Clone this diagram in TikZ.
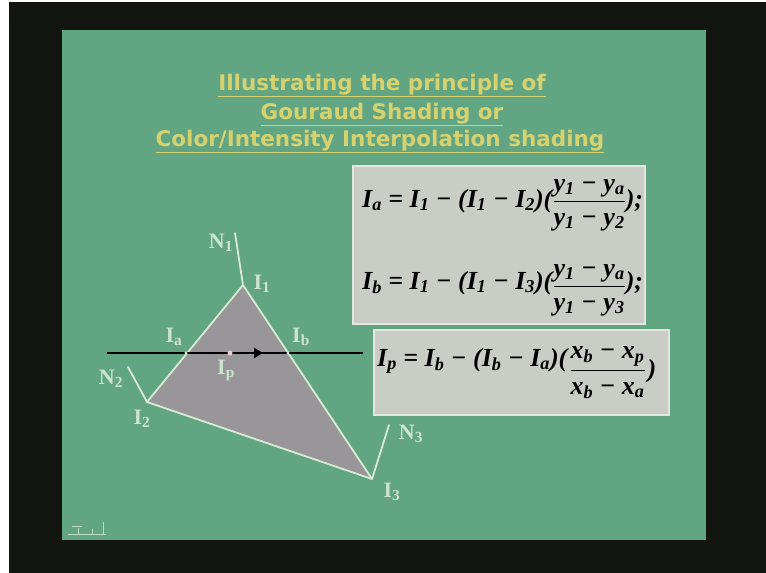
\documentclass[tikz,border=0pt]{standalone}
\usepackage{fontspec}
\newfontfamily\titlefont{DejaVu Sans}
\newfontfamily\fm{Liberation Serif}
\usetikzlibrary{arrows.meta}
\definecolor{bgdark}{RGB}{18,21,16}
\definecolor{slide}{RGB}{98,165,130}
\definecolor{ttl}{RGB}{214,210,112}
\definecolor{boxg}{RGB}{201,205,198}
\definecolor{tri}{RGB}{152,150,152}
\definecolor{edge}{RGB}{214,234,214}
\definecolor{lbltext}{RGB}{205,228,208}
\definecolor{ipdot}{RGB}{235,205,205}
\newcommand\frc[3]{\raisebox{-#1}{$\displaystyle{\hbox{#2}\above 1.4pt\hbox{#3}}$}}
\begin{document}
\begin{tikzpicture}[x=1pt,y=-1pt,
  ttlstyle/.style={anchor=base, inner sep=0pt, text=ttl, font=\titlefont\bfseries\fontsize{21.5}{24}\selectfont},
  lbl/.style={text=lbltext, inner sep=0pt, font=\fm\bfseries\fontsize{22}{24}\selectfont},
  eq/.style={anchor=base west, inner sep=0pt, font=\fm\bfseries\itshape\fontsize{26}{32}\selectfont},
  eqbox/.style={fill=boxg, draw=boxg!50!white, line width=1.5pt, anchor=north west, inner sep=0pt},
  edgeline/.style={draw=edge, line width=1.8pt, line cap=round, line join=round},
  scanline/.style={draw=black, line width=2pt},
  icon/.style={draw=edge!80!slide, line width=1pt},
]
\fill[white] (0,0) rectangle (766,573);
\fill[bgdark] (9,2) rectangle (766,573);
\fill[slide] (62,30) rectangle (706,540);
\useasboundingbox (0,0) rectangle (766,573);

% title
\node[ttlstyle] (t1) at (382,90) {\underline{Illustrating the principle of}};
\node[ttlstyle] (t2) at (382,119) {\underline{Gouraud Shading or}};
\node[ttlstyle] (t3) at (380,146) {\underline{Color/Intensity Interpolation shading}};

% formula boxes
\node[eqbox, minimum width=292pt, minimum height=158pt] (box1) at (352,165) {};
\node[eqbox, minimum width=295pt, minimum height=85pt] (box2) at (373,329) {};

\node[eq] (fa) at (362,207) {I\textsubscript{a} = I\textsubscript{1} − (I\textsubscript{1} − I\textsubscript{2})(\frc{1pt}{y\textsubscript{1} − y\textsubscript{a}}{y\textsubscript{1} − y\textsubscript{2}});};
\node[eq] (fb) at (362,289) {I\textsubscript{b} = I\textsubscript{1} − (I\textsubscript{1} − I\textsubscript{3})(\frc{4pt}{y\textsubscript{1} − y\textsubscript{a}}{y\textsubscript{1} − y\textsubscript{3}});};
\node[eq] (fp) at (377,366) {I\textsubscript{p} = I\textsubscript{b} − (I\textsubscript{b} − I\textsubscript{a})(\kern2pt\frc{11pt}{x\textsubscript{b} − x\textsubscript{p}}{x\textsubscript{b} − x\textsubscript{a}}\kern2pt\raisebox{-11pt}{)}};

% triangle
\coordinate (I1) at (243,285);
\coordinate (I2) at (147,402);
\coordinate (I3) at (372,479);
\coordinate (n1) at (235,233);
\coordinate (n2) at (128,367);
\coordinate (n3) at (389,425);
\fill[tri] (I1) -- (I2) -- (I3) -- cycle;
\draw[edgeline] (I1) -- (I2) -- (I3) -- cycle;
\draw[edgeline] (I1) -- (n1);
\draw[edgeline] (I2) -- (n2);
\draw[edgeline] (I3) -- (n3);

% scan line
\coordinate (L) at (107,353);
\coordinate (R) at (363,353);
\coordinate (Ia) at (186,353);
\coordinate (Ib) at (288,353);
\coordinate (Ip) at (230,353);
\coordinate (tip) at (263,353);
\draw[scanline] (L) -- (R);
\draw[scanline, -{Triangle[length=9pt,width=10pt]}] (Ip) -- (tip);
\fill[edge] (Ia) circle (1.6);
\fill[edge] (Ib) circle (1.6);
\fill[ipdot] (Ip) circle (2.5);

% labels
\node[lbl] (lN1) at (221,243) {N\textsubscript{1}};
\node[lbl] (lI1) at (262,284) {I\textsubscript{1}};
\node[lbl] (lIa) at (174,337) {I\textsubscript{a}};
\node[lbl] (lIb) at (301,337) {I\textsubscript{b}};
\node[lbl] (lIp) at (226,370) {I\textsubscript{p}};
\node[lbl] (lN2) at (111,379) {N\textsubscript{2}};
\node[lbl] (lI2) at (142,419) {I\textsubscript{2}};
\node[lbl] (lN3) at (411,434) {N\textsubscript{3}};
\node[lbl] (lI3) at (392,492) {I\textsubscript{3}};

% small icon bottom-left
\draw[icon] (68,534) -- (106,534);
\draw[icon] (78,534) -- (78,528);
\draw[icon] (72,526) -- (82,526);
\draw[icon] (92,534) -- (92,529);
\draw[icon] (103,534) -- (103,522);
\end{tikzpicture}
\end{document}
